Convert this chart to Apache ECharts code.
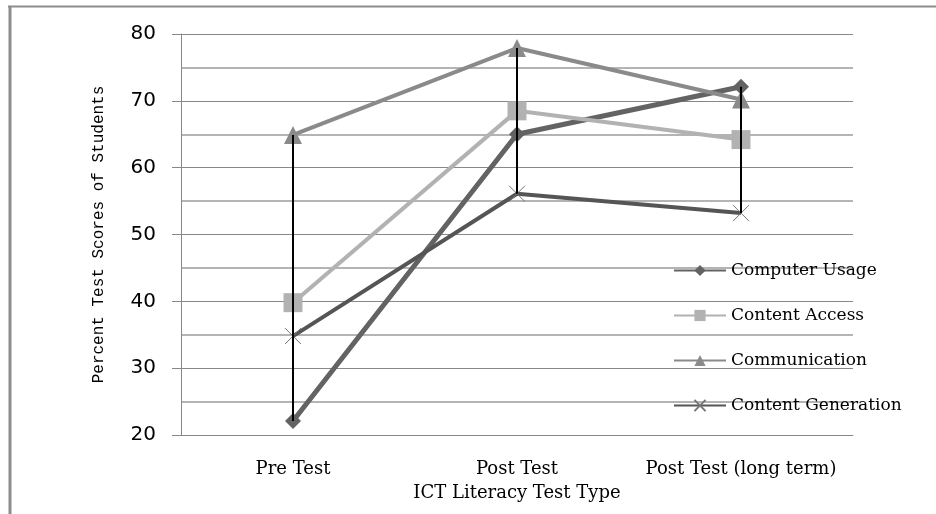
<!DOCTYPE html>
<html>
<head>
<meta charset="utf-8">
<script src="https://cdn.jsdelivr.net/npm/echarts@6/dist/echarts.min.js"></script>
<style>
  html, body { margin: 0; padding: 0; background: #fff; }
  #chart { width: 936px; height: 514px; }
</style>
</head>
<body>
<div id="chart"></div>
<script>
// 类别与数据
var categories = ['Pre Test', 'Post Test', 'Post Test (long term)'];
var computerUsage = [22.1, 65, 72.1];
var contentAccess = [39.8, 68.5, 64.2];
var communication = [64.9, 77.9, 70.2];
var contentGeneration = [34.8, 56.1, 53.2];
var seriesNames = ['Computer Usage', 'Content Access', 'Communication', 'Content Generation'];

var myChart = echarts.init(document.getElementById('chart'));

// 高低线: 每个类别的最小值到最大值
var allSeries = [computerUsage, contentAccess, communication, contentGeneration];
var hiLow = categories.map(function (c, i) {
    var vals = allSeries.map(function (s) { return s[i]; });
    return [i, Math.min.apply(null, vals), Math.max.apply(null, vals)];
});

var crossPath = 'path://M0,0L10,10M10,0L0,10';
var serifFont = 'DejaVu Serif';

function lineSeries(name, data, color, symbol, size, width) {
    return {
        name: name,
        type: 'line',
        data: data,
        symbol: symbol,
        symbolSize: size,
        lineStyle: { color: color, width: width },
        itemStyle: { color: color },
        z: 3
    };
}

var crossSeries = lineSeries(seriesNames[3], contentGeneration, '#555555', crossPath, 16, 4);
crossSeries.itemStyle = { color: '#555555', borderColor: '#777777', borderWidth: 1 };

var option = {
    animation: false,
    backgroundColor: '#fff',
    graphic: [
        { type: 'line', shape: { x1: 8, y1: 6.5, x2: 936, y2: 6.5 }, style: { stroke: '#8c8c8c', lineWidth: 2 } },
        { type: 'line', shape: { x1: 10, y1: 6, x2: 10, y2: 514 }, style: { stroke: '#8c8c8c', lineWidth: 3 } }
    ],
    grid: { left: 181, right: 83, top: 34, bottom: 79 },
    legend: {
        orient: 'vertical',
        left: 668,
        top: 257,
        itemWidth: 52,
        itemHeight: 14,
        itemGap: 28,
        data: seriesNames,
        textStyle: { fontFamily: serifFont, fontSize: 17, color: '#000' }
    },
    xAxis: {
        type: 'category',
        data: categories,
        name: 'ICT Literacy Test Type',
        nameLocation: 'middle',
        nameGap: 49,
        nameTextStyle: { fontFamily: serifFont, fontSize: 18, color: '#000' },
        axisLine: { lineStyle: { color: '#888', width: 1 } },
        axisTick: { show: false },
        axisLabel: { interval: 0, fontFamily: serifFont, fontSize: 18, color: '#000', margin: 25 }
    },
    yAxis: {
        type: 'value',
        min: 20,
        max: 80,
        interval: 10,
        name: 'Percent Test Scores of Students',
        nameLocation: 'middle',
        nameGap: 74,
        nameTextStyle: { fontFamily: 'Liberation Mono', fontSize: 16, color: '#000' },
        axisLine: { show: true, lineStyle: { color: '#888', width: 1 } },
        axisTick: { show: true, length: 9, lineStyle: { color: '#888' } },
        axisLabel: { fontFamily: 'DejaVu Sans', fontSize: 20, color: '#000', margin: 25 },
        splitLine: { lineStyle: { color: '#888', width: 1 } },
        minorTick: { show: false, splitNumber: 2 },
        minorSplitLine: { show: true, lineStyle: { color: '#b4b4b4', width: 2 } }
    },
    series: [
        lineSeries(seriesNames[0], computerUsage, '#636363', 'diamond', 16, 5),
        lineSeries(seriesNames[1], contentAccess, '#b2b2b2', 'rect', 19, 4),
        lineSeries(seriesNames[2], communication, '#8a8a8a', 'triangle', 18, 4),
        crossSeries,
        {
            type: 'custom',
            data: hiLow,
            z: 5,
            renderItem: function (params, api) {
                var p1 = api.coord([api.value(0), api.value(1)]);
                var p2 = api.coord([api.value(0), api.value(2)]);
                return {
                    type: 'line',
                    shape: { x1: p1[0], y1: p1[1], x2: p2[0], y2: p2[1] },
                    style: { stroke: '#000', lineWidth: 2 }
                };
            }
        }
    ]
};
myChart.setOption(option);
</script>
</body>
</html>
